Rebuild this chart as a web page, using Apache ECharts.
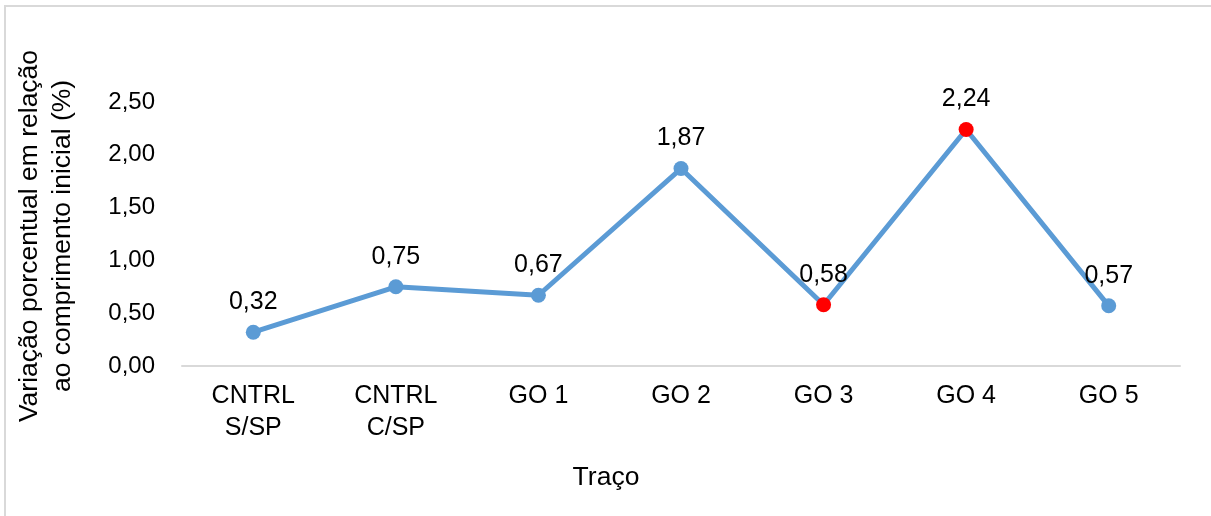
<!DOCTYPE html>
<html>
<head>
<meta charset="utf-8">
<script src="https://cdn.jsdelivr.net/npm/echarts@6/dist/echarts.min.js"></script>
<style>
  html, body { margin: 0; padding: 0; background: #ffffff; }
  #chart { width: 1211px; height: 516px; }
</style>
</head>
<body>
<div id="chart"></div>
<script>
// Variação percentual por traço
const categories = ['CNTRL\nS/SP', 'CNTRL\nC/SP', 'GO 1', 'GO 2', 'GO 3', 'GO 4', 'GO 5'];
const values = [0.32, 0.75, 0.67, 1.87, 0.58, 2.24, 0.57];
const highlighted = ['GO 3', 'GO 4'];
const yTicks = { min: 0, max: 2.5, interval: 0.5 };
const yTitleLines = ['Variação porcentual em relação', 'ao comprimento inicial (%)'];
const xTitle = 'Traço';

const FONT = 'Liberation Sans, Arial, sans-serif';
const LINE_COLOR = '#5B9BD5';
const MARK_COLOR = '#FF0000';

const fmt = v => v.toFixed(2).replace('.', ',');

const seriesData = values.map((v, i) => ({
  value: v,
  itemStyle: { color: highlighted.includes(categories[i]) ? MARK_COLOR : LINE_COLOR }
}));

const chart = echarts.init(document.getElementById('chart'), null, { renderer: 'canvas' });
chart.setOption({
  animation: false,
  backgroundColor: '#ffffff',
  grid: { left: 182, right: 31, top: 102, bottom: 150, containLabel: false },
  xAxis: {
    type: 'category',
    data: categories,
    boundaryGap: true,
    axisLine: { show: true, lineStyle: { color: '#d9d9d9', width: 2 } },
    axisTick: { show: false },
    axisLabel: {
      color: '#000000', fontFamily: FONT, fontSize: 25, lineHeight: 32,
      margin: 14, interval: 0
    },
    splitLine: { show: false }
  },
  yAxis: {
    type: 'value',
    min: yTicks.min, max: yTicks.max, interval: yTicks.interval,
    axisLine: { show: false },
    axisTick: { show: false },
    splitLine: { show: false },
    axisLabel: {
      color: '#000000', fontFamily: FONT, fontSize: 24, margin: 27,
      formatter: v => fmt(v)
    }
  },
  series: [{
    type: 'line',
    data: seriesData,
    symbol: 'circle',
    symbolSize: 15,
    lineStyle: { color: LINE_COLOR, width: 5 },
    itemStyle: { color: LINE_COLOR },
    label: {
      show: true, position: 'top', distance: 10,
      color: '#000000', fontFamily: FONT, fontSize: 25,
      formatter: p => fmt(p.value)
    },
    z: 3
  }],
  graphic: [
    {
      type: 'rect',
      shape: { x: 5, y: 6, width: 1300, height: 600 },
      style: { fill: 'none', stroke: '#d9d9d9', lineWidth: 2 },
      silent: true, z: -1
    },
    {
      type: 'text',
      x: 46, y: 236,
      rotation: Math.PI / 2,
      style: {
        text: yTitleLines.join('\n'),
        fill: '#000000', font: '26.5px ' + FONT, lineHeight: 33,
        textAlign: 'center', textVerticalAlign: 'middle'
      }
    },
    {
      type: 'text',
      x: 606, y: 478,
      style: {
        text: xTitle,
        fill: '#000000', font: '26.5px ' + FONT,
        textAlign: 'center', textVerticalAlign: 'middle'
      }
    }
  ]
});
</script>
</body>
</html>
